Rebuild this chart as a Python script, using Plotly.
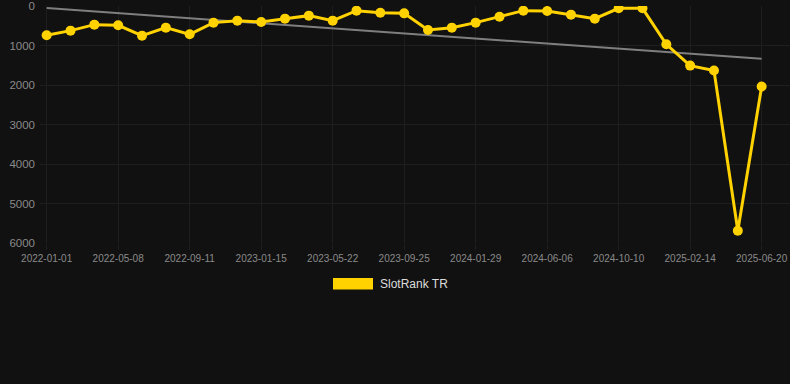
import numpy as np
import plotly.graph_objects as go

dates = [
    "2022-01-01", "2022-02-12", "2022-03-26", "2022-05-08", "2022-06-19", "2022-07-31",
    "2022-09-11", "2022-10-23", "2022-12-04", "2023-01-15", "2023-02-26", "2023-04-09",
    "2023-05-22", "2023-07-03", "2023-08-14", "2023-09-25", "2023-11-06", "2023-12-18",
    "2024-01-29", "2024-03-11", "2024-04-23", "2024-06-06", "2024-07-18", "2024-08-29",
    "2024-10-10", "2024-11-21", "2025-01-02", "2025-02-14", "2025-03-28", "2025-05-09",
    "2025-06-20",
]
rank = [741, 624, 472, 489, 750, 548, 717, 421, 371, 405, 320, 244, 371, 118, 169, 186,
        607, 548, 421, 270, 118, 126, 219, 320, 59, 59, 969, 1509, 1635, 5689, 2040]
tick_labels = dates[::3]
y_ticks = [0, 1000, 2000, 3000, 4000, 5000, 6000]
series_name = "SlotRank TR"

idx = np.arange(len(rank))
slope, intercept = np.polyfit(idx, rank, 1)
trend = slope * idx + intercept

YELLOW = "#ffd200"
BG = "#111111"
GRID = "#1e1e1e"
TICK = "#8a8a8a"

fig = go.Figure()
fig.add_trace(go.Scatter(
    x=dates, y=trend, mode="lines",
    line=dict(color="#7f7f7f", width=2), showlegend=False, hoverinfo="skip",
))
fig.add_trace(go.Scatter(
    x=dates, y=rank, mode="lines+markers", name=series_name,
    line=dict(color=YELLOW, width=3),
    marker=dict(color=YELLOW, size=10),
    showlegend=False,
))

fig.update_layout(
    width=790, height=384,
    paper_bgcolor=BG, plot_bgcolor=BG,
    margin=dict(l=40, r=0, t=6, b=141),
    font=dict(family="Liberation Sans, Arial, sans-serif", color=TICK),
    xaxis=dict(
        type="category",
        range=[-0.28, 31.19],
        tickmode="array", tickvals=tick_labels, ticktext=tick_labels,
        tickfont=dict(size=10, color=TICK),
        showgrid=True, gridcolor=GRID, gridwidth=1,
        zeroline=False, showline=False,
        ticks="outside", ticklen=6, tickcolor=GRID,
    ),
    yaxis=dict(
        range=[6000, 0],
        tickmode="array", tickvals=y_ticks,
        tickfont=dict(size=11.5, color=TICK),
        showgrid=True, gridcolor=GRID, gridwidth=1,
        zeroline=False, showline=False,
        ticks="", ticklabelstandoff=4,
    ),
    showlegend=False,
)

# legend drawn as a box + real text label
fig.add_shape(type="rect", xref="paper", yref="paper",
              x0=(333 - 40) / 750, x1=(373 - 40) / 750,
              y0=-(289.5 - 243) / 237, y1=-(278 - 243) / 237,
              fillcolor=YELLOW, line=dict(width=0))
fig.add_annotation(xref="paper", yref="paper",
                   x=(378 - 40) / 750, y=-(284 - 243) / 237,
                   text=series_name, showarrow=False,
                   xanchor="left", yanchor="middle",
                   font=dict(size=12, color="#dddddd"))

fig.write_html(
    "out.html",
    config={"displayModeBar": False},
    post_script="document.body.style.margin='0';document.body.style.background='#111111';",
)
